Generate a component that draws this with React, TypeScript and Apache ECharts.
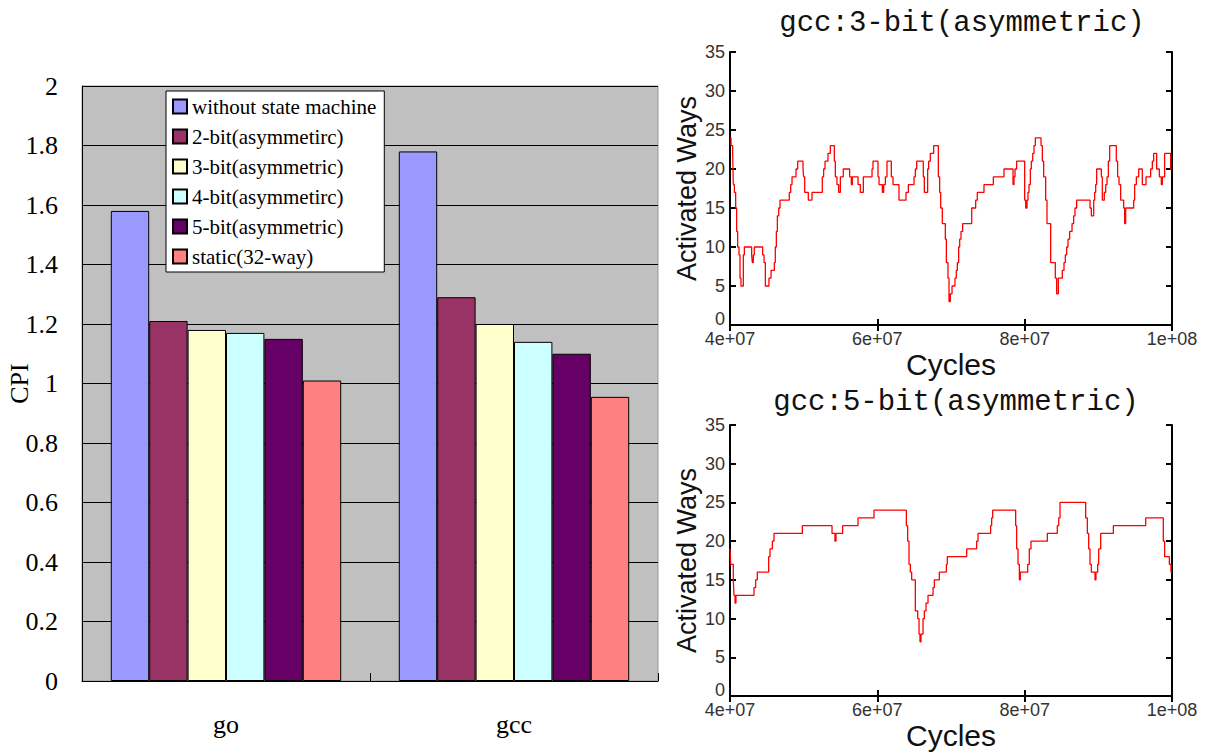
import React, { useEffect, useRef } from "react";
import * as echarts from "echarts";

// ---- CPI bar chart data ----
const benchmarks = ["go", "gcc"];
const policies = [
  "without state machine",
  "2-bit(asymmetirc)",
  "3-bit(asymmetric)",
  "4-bit(asymmetirc)",
  "5-bit(asymmetric)",
  "static(32-way)",
];
const policyColors = ["#9999FF", "#993366", "#FFFFCC", "#CCFFFF", "#660066", "#FF8080"];
const cpiGo = [1.58, 1.21, 1.18, 1.17, 1.15, 1.01];
const cpiGcc = [1.78, 1.29, 1.2, 1.14, 1.1, 0.955];
const cpiTicks = { min: 0, max: 2, interval: 0.2 };

// ---- Activated-ways traces: [cycles in units of 1e7, activated ways], each level holds until the next point ----
const CYCLE_UNIT = 1e7;
const gcc3bitTrace: [number, number][] = [
  [4.0, 24], [4.014, 23], [4.036, 22], [4.045, 18], [4.059, 17], [4.077, 15], [4.09, 12], [4.104, 10],
  [4.122, 9], [4.136, 6], [4.149, 5], [4.181, 9], [4.195, 10], [4.294, 9], [4.303, 8], [4.317, 9],
  [4.33, 10], [4.443, 9], [4.462, 8], [4.48, 5], [4.529, 6], [4.557, 7], [4.602, 8], [4.615, 10],
  [4.629, 12], [4.643, 14], [4.661, 15], [4.679, 16], [4.805, 17], [4.824, 18], [4.842, 19], [4.896, 20],
  [4.919, 21], [4.991, 20], [5.0, 19], [5.014, 17], [5.063, 16], [5.113, 17], [5.253, 19], [5.271, 20],
  [5.29, 21], [5.33, 22], [5.362, 23], [5.416, 21], [5.43, 19], [5.452, 18], [5.475, 17], [5.498, 19],
  [5.538, 20], [5.624, 19], [5.647, 18], [5.661, 19], [5.738, 18], [5.769, 17], [5.81, 19], [5.928, 20],
  [5.941, 21], [6.009, 19], [6.023, 18], [6.068, 17], [6.086, 18], [6.109, 19], [6.131, 21], [6.19, 19],
  [6.213, 18], [6.294, 16], [6.389, 17], [6.421, 18], [6.498, 19], [6.516, 20], [6.534, 21], [6.624, 19],
  [6.638, 17], [6.683, 20], [6.697, 21], [6.719, 22], [6.765, 23], [6.828, 19], [6.846, 17], [6.86, 15],
  [6.882, 13], [6.923, 11], [6.937, 8], [6.959, 6], [6.973, 3], [6.991, 4], [7.014, 5], [7.054, 6],
  [7.072, 7], [7.086, 8], [7.104, 10], [7.118, 11], [7.136, 12], [7.158, 13], [7.281, 15], [7.335, 16],
  [7.357, 17], [7.448, 18], [7.575, 19], [7.719, 20], [7.842, 18], [7.855, 19], [7.869, 20], [7.891, 21],
  [8.0, 16], [8.014, 15], [8.032, 16], [8.045, 17], [8.059, 18], [8.077, 20], [8.09, 21], [8.109, 22],
  [8.127, 23], [8.145, 24], [8.222, 23], [8.24, 21], [8.258, 19], [8.285, 16], [8.303, 13], [8.353, 8],
  [8.416, 6], [8.434, 4], [8.457, 6], [8.511, 7], [8.534, 8], [8.552, 9], [8.57, 10], [8.588, 11],
  [8.611, 12], [8.643, 13], [8.665, 14], [8.683, 15], [8.706, 16], [8.887, 15], [8.905, 14], [8.937, 16],
  [8.95, 17], [8.964, 18], [8.977, 20], [9.041, 19], [9.054, 16], [9.081, 17], [9.1, 18], [9.118, 19],
  [9.136, 21], [9.154, 23], [9.244, 21], [9.262, 19], [9.281, 18], [9.303, 16], [9.344, 15], [9.357, 13],
  [9.371, 15], [9.48, 16], [9.493, 18], [9.516, 19], [9.548, 20], [9.597, 18], [9.647, 19], [9.71, 20],
  [9.733, 21], [9.751, 22], [9.792, 20], [9.828, 19], [9.855, 18], [9.869, 19], [9.9, 22], [9.982, 20],
  [10.0, 20],
];
const gcc5bitTrace: [number, number][] = [
  [4.0, 19], [4.009, 17], [4.045, 15], [4.054, 13], [4.068, 12], [4.081, 13], [4.326, 14], [4.348, 15],
  [4.371, 16], [4.525, 18], [4.543, 19], [4.575, 20], [4.597, 21], [4.982, 22], [5.385, 21], [5.425, 20],
  [5.439, 21], [5.529, 22], [5.738, 23], [5.955, 24], [6.394, 22], [6.412, 20], [6.43, 17], [6.448, 16],
  [6.466, 15], [6.516, 11], [6.548, 10], [6.566, 8], [6.579, 7], [6.593, 8], [6.62, 10], [6.638, 11],
  [6.661, 12], [6.688, 13], [6.756, 14], [6.774, 15], [6.842, 16], [6.937, 17], [6.95, 18], [7.213, 19],
  [7.348, 20], [7.367, 21], [7.538, 22], [7.552, 23], [7.566, 24], [7.878, 22], [7.891, 19], [7.91, 17],
  [7.928, 15], [7.941, 16], [8.041, 17], [8.063, 19], [8.086, 20], [8.308, 21], [8.443, 22], [8.462, 23],
  [8.48, 25], [8.828, 23], [8.851, 21], [8.869, 19], [8.887, 17], [8.905, 16], [8.955, 15], [8.968, 16],
  [8.991, 17], [9.005, 19], [9.032, 21], [9.204, 22], [9.643, 23], [9.882, 20], [9.9, 18], [9.964, 17],
  [9.986, 16], [10.0, 16],
];
const cycleTicks = { min: 4e7, max: 1e8, interval: 2e7 };
const waysTicks = { min: 0, max: 35, interval: 5 };

const SERIF = "'Liberation Serif', 'Times New Roman', serif";
const SANS = "'Liberation Sans', Arial, sans-serif";
const MONO = "'Liberation Mono', 'Courier New', monospace";

// C-style %g exponent label, e.g. 4e+07, 1e+08
function expLabel(v: number): string {
  if (v === 0) return "0";
  const exp = Math.floor(Math.log10(v) + 1e-9);
  const mant = +(v / Math.pow(10, exp)).toFixed(3);
  return `${mant}e+${String(exp).padStart(2, "0")}`;
}

function traceAxes(gridIndex: number) {
  const lineStyle = { color: "#000", width: 2 };
  const tick = { show: true, inside: true, length: 6, lineStyle: { color: "#000", width: 2 } };
  const xAxes = [
    {
      type: "value",
      gridIndex,
      ...cycleTicks,
      axisLine: { show: true, lineStyle },
      axisTick: tick,
      splitLine: { show: false },
      axisLabel: {
        formatter: expLabel,
        fontFamily: SANS,
        fontSize: 18,
        color: "#333",
        margin: 5,
      },
      name: "Cycles",
      nameLocation: "middle",
      nameGap: 24,
      nameMoveOverlap: false,
      nameTextStyle: { fontFamily: SANS, fontSize: 30, color: "#111" },
    },
    {
      type: "value",
      gridIndex,
      position: "top",
      ...cycleTicks,
      axisLine: { show: true, lineStyle },
      axisTick: tick,
      splitLine: { show: false },
      axisLabel: { show: false },
    },
  ];
  const yAxes = [
    {
      type: "value",
      gridIndex,
      ...waysTicks,
      axisLine: { show: true, lineStyle },
      axisTick: tick,
      splitLine: { show: false },
      axisLabel: {
        fontFamily: SANS,
        fontSize: 18,
        color: "#333",
        margin: 5,
        // the zero label sits a little above the corner, clear of the first cycle label
        formatter: (v: number) => (v === 0 ? "{z|0}" : String(v)),
        rich: { z: { fontFamily: SANS, fontSize: 18, color: "#333", padding: [0, 0, 12, 0] } },
      },
      name: "Activated Ways",
      nameLocation: "middle",
      nameGap: 30,
      nameTextStyle: { fontFamily: SANS, fontSize: 27, color: "#111" },
    },
    {
      type: "value",
      gridIndex,
      position: "right",
      ...waysTicks,
      axisLine: { show: true, lineStyle },
      axisTick: tick,
      splitLine: { show: false },
      axisLabel: { show: false },
    },
  ];
  return { xAxes, yAxes };
}

export default function App() {
  const ref = useRef<HTMLDivElement>(null);

  useEffect(() => {
    document.body.style.margin = "0";
    if (!ref.current) return;
    const chart = echarts.init(ref.current, undefined, { renderer: "svg" });

    const top = traceAxes(1);
    const bottom = traceAxes(2);

    const barSeries = policies.map((name, i) => ({
      type: "bar",
      name,
      xAxisIndex: 0,
      yAxisIndex: 0,
      data: [cpiGo[i], cpiGcc[i]],
      barGap: "0%",
      barCategoryGap: "20%",
      itemStyle: { color: policyColors[i], borderColor: "#000", borderWidth: 1 },
    }));

    const toCycles = (trace: [number, number][]) => trace.map(([c, w]) => [c * CYCLE_UNIT, w]);

    const titleStyle = { fontFamily: MONO, fontSize: 29, fontWeight: "normal", color: "#111" };

    chart.setOption({
      animation: false,
      backgroundColor: "#fff",
      title: [
        { text: "gcc:3-bit(asymmetric)", left: 957, top: 4, textAlign: "center", textStyle: titleStyle },
        { text: "gcc:5-bit(asymmetric)", left: 951, top: 383, textAlign: "center", textStyle: titleStyle },
      ],
      legend: {
        orient: "vertical",
        left: 166,
        top: 91,
        data: policies,
        icon: "rect",
        itemWidth: 14,
        itemHeight: 14,
        itemGap: 9,
        padding: [5, 8, 5, 6],
        backgroundColor: "#fff",
        borderColor: "#000",
        borderWidth: 1,
        textStyle: { fontFamily: SERIF, fontSize: 21, color: "#000", lineHeight: 21 },
        selectedMode: false,
      },
      grid: [
        {
          left: 82,
          top: 86,
          width: 576,
          height: 595,
          outerBoundsMode: "none",
          show: true,
          backgroundColor: "#C0C0C0",
          borderColor: "#999",
          borderWidth: 1,
        },
        { left: 730, top: 52, width: 442, height: 273, outerBoundsMode: "none" },
        { left: 730, top: 425, width: 442, height: 271, outerBoundsMode: "none" },
      ],
      xAxis: [
        {
          type: "category",
          gridIndex: 0,
          data: benchmarks,
          axisLine: { show: true, lineStyle: { color: "#000", width: 1 } },
          axisTick: { show: true, inside: true, length: 8, alignWithLabel: false, lineStyle: { color: "#000" } },
          axisLabel: { fontFamily: SERIF, fontSize: 26, color: "#000", margin: 30 },
        },
        ...top.xAxes,
        ...bottom.xAxes,
      ],
      yAxis: [
        {
          type: "value",
          gridIndex: 0,
          ...cpiTicks,
          axisLine: { show: true, lineStyle: { color: "#000", width: 1 } },
          axisTick: { show: false },
          splitLine: { show: true, lineStyle: { color: "#000", width: 1 } },
          axisLabel: { fontFamily: SERIF, fontSize: 26, color: "#000", margin: 24 },
          name: "CPI",
          nameLocation: "middle",
          nameGap: 50,
          nameMoveOverlap: false,
          nameTextStyle: { fontFamily: SERIF, fontSize: 26, color: "#000" },
        },
        ...top.yAxes,
        ...bottom.yAxes,
      ],
      series: [
        ...barSeries,
        {
          type: "line",
          name: "gcc 3-bit",
          xAxisIndex: 1,
          yAxisIndex: 1,
          step: "end",
          showSymbol: false,
          data: toCycles(gcc3bitTrace),
          lineStyle: { color: "#FF0000", width: 1.3 },
          itemStyle: { color: "#FF0000" },
        },
        {
          type: "line",
          name: "gcc 5-bit",
          xAxisIndex: 3,
          yAxisIndex: 3,
          step: "end",
          showSymbol: false,
          data: toCycles(gcc5bitTrace),
          lineStyle: { color: "#FF0000", width: 1.3 },
          itemStyle: { color: "#FF0000" },
        },
      ],
    });

    return () => chart.dispose();
  }, []);

  return <div ref={ref} style={{ width: 1212, height: 753 }} />;
}
